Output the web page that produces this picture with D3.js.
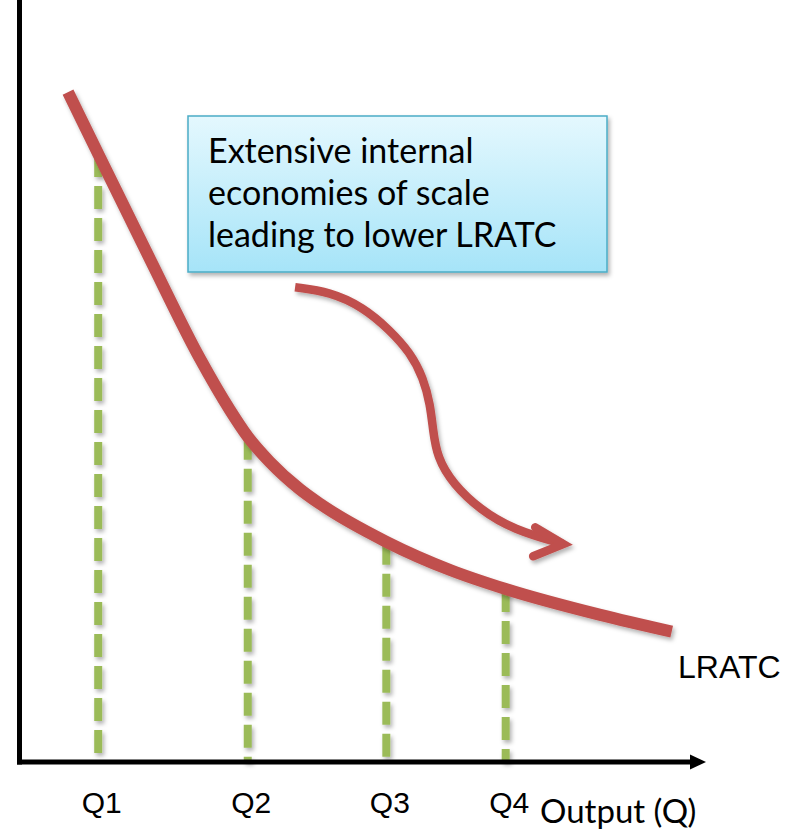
<!DOCTYPE html>
<html>
<head>
<meta charset="utf-8">
<script src="https://cdn.jsdelivr.net/npm/d3@7"></script>
<style>
  html, body { margin: 0; padding: 0; background: #ffffff; }
  svg { display: block; }
</style>
</head>
<body>
<svg id="chart" width="795" height="831"></svg>
<script>
// Long-run average total cost curve, falling as output rises
const outputLabels = ["Q1", "Q2", "Q3", "Q4"];
const outputLevels = [1.14, 3.32, 5.34, 7.08];
const costAtLevels = [79.8, 42.7, 28.9, 22.7];

const lratcOutput = [0.70, 1.14, 1.90, 2.62, 3.06, 3.32, 3.64, 4.08, 4.37, 5.34, 6.27, 7.08, 8.46, 9.50];
const lratcCost   = [87.9, 79.8, 65.9, 53.0, 46.2, 42.7, 39.4, 35.8, 33.9, 28.9, 25.2, 22.7, 19.3, 17.1];

// Curved arrow showing the move down the curve
const arrowOutput = [4.01, 4.52, 5.00, 5.39, 5.69, 5.88, 5.98, 6.02, 6.08, 6.31, 6.71, 7.19, 7.92];
const arrowCost   = [62.3, 61.7, 59.7, 56.7, 53.7, 50.4, 46.9, 43.6, 40.0, 36.5, 33.1, 30.5, 28.6];
const arrowHeadOutput = [7.51, 7.92, 7.48];
const arrowHeadCost   = [30.8, 28.6, 27.0];

const noteLines = ["Extensive internal", "economies of scale", "leading to lower LRATC"];
const curveName = "LRATC";
const axisTitle = "Output (Q)";

const svg = d3.select("#chart");
const x = d3.scaleLinear().domain([0, 10]).range([20, 706]);
const y = d3.scaleLinear().domain([0, 100]).range([762, 0]);

const red = "#c0504d", green = "#9bbb59";

// soft shadow used by the curves, guides and note box
const defs = svg.append("defs");
const sh = defs.append("filter").attr("id", "shadow")
  .attr("filterUnits", "userSpaceOnUse")
  .attr("x", 0).attr("y", 0).attr("width", 795).attr("height", 831);
sh.append("feDropShadow").attr("dx", 2).attr("dy", 3).attr("stdDeviation", 2)
  .attr("flood-color", "#000").attr("flood-opacity", 0.3);
const grad = defs.append("linearGradient").attr("id", "boxFill")
  .attr("x1", 0).attr("y1", 0).attr("x2", 0).attr("y2", 1);
grad.append("stop").attr("offset", "0%").attr("stop-color", "#e4f8fe");
grad.append("stop").attr("offset", "100%").attr("stop-color", "#a6e4f8");

// dashed guides from each output level down to the axis
svg.append("g").attr("filter", "url(#shadow)")
  .selectAll("line").data(outputLevels).join("line")
  .attr("x1", d => x(d)).attr("x2", d => x(d))
  .attr("y1", (d, i) => y(costAtLevels[i])).attr("y2", y(0))
  .attr("stroke", green).attr("stroke-width", 8)
  .attr("stroke-dasharray", "23 9");

// axes
const xAxis = d3.axisBottom(x)
  .tickValues(outputLevels)
  .tickFormat((d, i) => outputLabels[i])
  .tickSize(0).tickSizeOuter(0).tickPadding(30);
const gx = svg.append("g").attr("transform", `translate(0,${y(0)})`).call(xAxis);
gx.select(".domain").attr("stroke", "#000").attr("stroke-width", 5)
  .attr("d", `M${x(0) - 3},0H${x(10) - 14}`);
gx.selectAll(".tick text")
  .attr("font-family", "'Liberation Sans', Arial, sans-serif")
  .attr("font-size", 30).attr("fill", "#000").attr("dx", 3);
gx.append("path")
  .attr("d", `M${x(10) - 16},-7.5L${x(10)},0L${x(10) - 16},7.5Z`)
  .attr("fill", "#000");

const yAxis = d3.axisLeft(y).tickValues([]).tickSize(0).tickSizeOuter(0);
const gy = svg.append("g").attr("transform", `translate(${x(0) - 0.5},0)`).call(yAxis);
gy.select(".domain").attr("stroke", "#000").attr("stroke-width", 5)
  .attr("d", `M0,${y(0) + 2.5}V0`);

// LRATC curve
const lratc = d3.zip(lratcOutput, lratcCost);
svg.append("path")
  .datum(lratc)
  .attr("d", d3.line().x(d => x(d[0])).y(d => y(d[1])).curve(d3.curveMonotoneX))
  .attr("fill", "none").attr("stroke", red).attr("stroke-width", 12)
  .attr("filter", "url(#shadow)");

// note box
const box = svg.append("g").attr("filter", "url(#shadow)");
box.append("rect")
  .attr("x", 188).attr("y", 116).attr("width", 419).attr("height", 156)
  .attr("fill", "url(#boxFill)").attr("stroke", "#4bacc6").attr("stroke-width", 1.5);
svg.append("g").selectAll("text").data(noteLines).join("text")
  .attr("x", 208).attr("y", (d, i) => 163 + i * 42)
  .attr("font-family", "Lato, 'Open Sans', sans-serif")
  .attr("font-size", 34).attr("fill", "#000")
  .text(d => d);

// curved arrow
const arrowPts = d3.zip(arrowOutput, arrowCost);
const arrowHead = d3.zip(arrowHeadOutput, arrowHeadCost);
const ag = svg.append("g").attr("filter", "url(#shadow)");
ag.append("path").datum(arrowPts)
  .attr("d", d3.line().x(d => x(d[0])).y(d => y(d[1])).curve(d3.curveBasis))
  .attr("fill", "none").attr("stroke", red).attr("stroke-width", 8.5);
ag.append("path").datum(arrowHead)
  .attr("d", d3.line().x(d => x(d[0])).y(d => y(d[1])))
  .attr("fill", "none").attr("stroke", red).attr("stroke-width", 8.5)
  .attr("stroke-linecap", "round").attr("stroke-linejoin", "miter");

// labels
svg.append("text").attr("x", 678).attr("y", 678)
  .attr("font-family", "'Liberation Sans', Arial, sans-serif")
  .attr("font-size", 32).attr("fill", "#000").text(curveName);
svg.append("text").attr("x", 540).attr("y", 823)
  .attr("font-family", "Lato, 'Open Sans', sans-serif")
  .attr("font-size", 33).attr("fill", "#000").text(axisTitle);
</script>
</body>
</html>
